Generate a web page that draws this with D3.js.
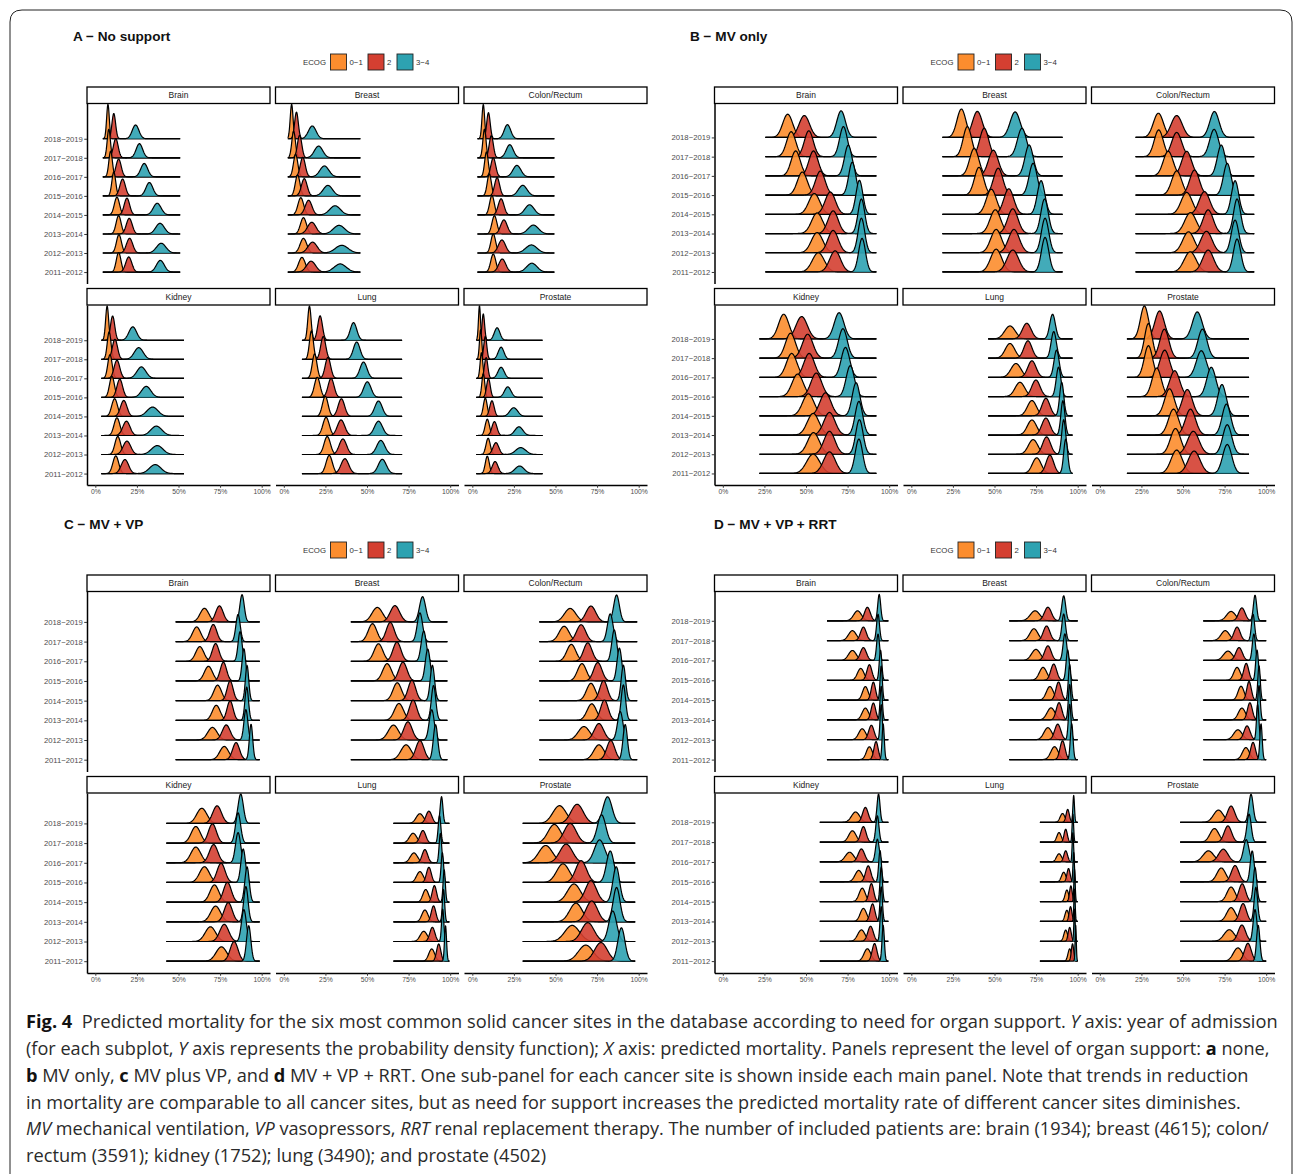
<!DOCTYPE html>
<html>
<head>
<meta charset="utf-8">
<script src="https://cdn.jsdelivr.net/npm/d3@7"></script>
<style>
  body { margin: 0; background: #fff; }
  svg { display: block; }
  text { font-family: "Liberation Sans", Arial, Helvetica, sans-serif; }
</style>
</head>
<body>
<script>
// ---- data ----------------------------------------------------------------
// rows of every array: ECOG 0−1, ECOG 2, ECOG 3−4 ; columns: 2011−2012 … 2018−2019
// mean and sd of predicted mortality (%), range = span of the data per facet (%)
const years = ["2011−2012", "2012−2013", "2013−2014", "2014−2015", "2015−2016", "2016−2017", "2017−2018", "2018−2019"];
const sites = ["Brain", "Breast", "Colon/Rectum", "Kidney", "Lung", "Prostate"];
const ecogLevels = ["0−1", "2", "3−4"];
const xTicks = [0, 25, 50, 75, 100];

// A – no support
const noSupportMean = {
  "Brain":        [[14.0, 14.2, 14.0, 13.0, 11.1, 9.2, 8.1, 7.6], [20.1, 20.6, 20.4, 19.0, 16.4, 14.0, 12.3, 11.1], [39.1, 39.6, 38.9, 37.2, 32.5, 29.4, 26.5, 24.2]],
  "Breast":       [[10.9, 11.8, 11.8, 10.2, 8.3, 7.1, 5.9, 4.7], [16.4, 17.3, 16.8, 14.9, 12.3, 11.4, 9.5, 7.6], [33.9, 34.8, 33.2, 30.8, 26.5, 24.4, 20.9, 17.1]],
  "Colon/Rectum": [[12.6, 12.6, 13.3, 11.8, 10.2, 8.5, 7.3, 6.6], [18.0, 17.8, 19.0, 17.3, 14.9, 12.6, 11.4, 9.7], [35.8, 35.5, 36.7, 34.4, 30.3, 26.8, 22.5, 21.1]],
  "Kidney":       [[12.3, 13.5, 13.0, 11.6, 10.0, 8.8, 8.3, 7.1], [17.8, 19.0, 18.7, 17.1, 14.7, 13.0, 11.8, 10.4], [36.0, 37.2, 36.7, 34.4, 30.6, 27.7, 26.1, 22.5]],
  "Lung":         [[27.3, 26.1, 25.4, 24.9, 20.1, 18.5, 16.6, 15.4], [36.7, 35.5, 34.4, 34.6, 28.4, 26.5, 23.7, 21.8], [59.2, 58.3, 56.9, 56.9, 50.2, 47.9, 43.8, 41.9]],
  "Prostate":     [[9.0, 9.5, 9.0, 7.8, 6.6, 5.5, 5.0, 4.3], [13.7, 14.2, 13.3, 11.8, 9.7, 8.3, 7.8, 6.6], [28.4, 29.1, 28.0, 24.9, 21.3, 17.3, 17.3, 14.9]]
};
const noSupportSd = {
  "Brain":        [[1.41, 1.5, 1.5, 1.55, 1.15, 1.07, 0.96, 0.8], [1.82, 1.87, 1.76, 1.64, 1.64, 1.55, 1.44, 1.09], [2.36, 2.82, 2.57, 2.36, 2.06, 2.06, 1.95, 2.0]],
  "Breast":       [[2.0, 2.0, 1.8, 1.7, 1.4, 1.3, 1.1, 0.85], [2.7, 2.7, 2.5, 2.0, 1.7, 1.5, 1.3, 1.1], [3.6, 3.8, 3.4, 3.2, 2.8, 2.7, 2.5, 2.3]],
  "Colon/Rectum": [[1.52, 1.44, 1.5, 1.41, 1.25, 1.1, 0.96, 0.8], [2.1, 2.1, 1.95, 1.7, 1.5, 1.44, 1.24, 1.05], [3.1, 3.4, 3.1, 2.7, 2.6, 2.4, 2.1, 1.95]],
  "Kidney":       [[1.74, 1.7, 1.74, 1.74, 1.47, 1.3, 1.12, 0.9], [2.2, 2.3, 2.16, 1.93, 1.69, 1.7, 1.54, 1.27], [3.45, 3.45, 3.3, 3.3, 2.8, 2.7, 2.65, 2.3]],
  "Lung":         [[1.88, 1.9, 1.88, 1.7, 1.7, 1.4, 1.2, 1.0], [2.3, 2.2, 2.2, 1.94, 1.8, 1.64, 1.5, 1.4], [2.4, 2.43, 2.4, 2.22, 2.2, 2.1, 1.98, 1.94]],
  "Prostate":     [[1.2, 1.28, 1.28, 1.13, 0.88, 0.81, 0.7, 0.6], [1.72, 1.75, 1.5, 1.33, 1.1, 1.0, 0.91, 0.79], [2.76, 3.0, 2.39, 2.39, 1.98, 1.88, 1.72, 1.67]]
};
const noSupportRange = {
  "Brain": [4.5, 51], "Breast": [2.4, 46], "Colon/Rectum": [3.1, 49.3],
  "Kidney": [3.6, 53.3], "Lung": [10.9, 71.1], "Prostate": [2.4, 42.2]
};

// B – MV only
const mvMean = {
  "Brain":        [[57.4, 56.7, 56.7, 55.0, 47.8, 43.8, 41.1, 39.0], [67.5, 66.3, 66.3, 64.6, 58.6, 54.5, 51.7, 49.0], [83.7, 83.3, 83.3, 82.1, 77.8, 75.4, 72.5, 71.1]],
  "Breast":       [[51.0, 51.0, 50.5, 48.1, 40.7, 37.8, 33.7, 30.1], [61.0, 61.7, 61.0, 58.6, 52.2, 49.3, 43.8, 39.7], [80.4, 80.4, 80.1, 78.0, 73.2, 70.8, 66.5, 62.4]],
  "Colon/Rectum": [[54.3, 53.3, 54.5, 52.2, 46.2, 41.1, 35.4, 35.2], [65.1, 64.1, 65.1, 62.9, 56.9, 52.2, 46.2, 46.2], [82.5, 81.3, 82.5, 81.3, 76.6, 73.0, 68.7, 68.9]],
  "Kidney":       [[54.3, 54.5, 54.3, 51.4, 45.0, 41.4, 40.7, 36.6], [64.1, 64.1, 64.1, 61.7, 56.2, 51.9, 51.0, 47.4], [81.8, 82.1, 81.8, 80.1, 76.6, 73.7, 72.2, 69.9]],
  "Lung":         [[75.4, 73.2, 72.5, 72.5, 65.3, 62.9, 59.3, 59.3], [83.3, 81.3, 80.9, 80.9, 74.9, 72.5, 70.1, 69.4], [92.8, 91.6, 91.1, 90.4, 88.5, 87.3, 85.6, 84.9]],
  "Prostate":     [[46.2, 45.5, 44.3, 41.9, 34.2, 29.2, 29.2, 26.8], [56.7, 56.2, 54.5, 52.6, 45.0, 39.0, 38.8, 35.9], [76.6, 76.6, 76.1, 73.4, 67.0, 61.0, 61.7, 58.6]]
};
const mvSd = {
  "Brain":        [[3.6, 3.43, 3.36, 3.33, 3.0, 2.77, 2.77, 2.98], [3.27, 3.1, 3.05, 3.1, 2.88, 2.77, 2.67, 3.16], [2.06, 2.0, 2.0, 2.03, 2.1, 2.25, 2.3, 2.6]],
  "Breast":       [[3.34, 3.26, 3.2, 3.03, 2.74, 2.77, 2.53, 2.68], [3.46, 3.26, 3.08, 2.98, 2.83, 2.96, 2.68, 2.92], [2.2, 2.2, 2.2, 2.26, 2.39, 2.46, 2.68, 2.98]],
  "Colon/Rectum": [[3.6, 3.47, 3.47, 3.32, 3.0, 2.95, 2.72, 3.0], [3.32, 3.38, 3.07, 3.2, 2.9, 2.95, 3.0, 3.32], [2.2, 2.22, 2.1, 2.16, 2.29, 2.36, 2.66, 2.8]],
  "Kidney":       [[3.94, 3.52, 3.52, 3.46, 3.37, 3.18, 3.05, 3.08], [3.52, 3.31, 3.37, 3.31, 3.23, 3.18, 3.18, 3.4], [2.21, 2.2, 2.26, 2.3, 2.46, 2.54, 2.58, 2.9]],
  "Lung":         [[2.65, 2.83, 2.76, 2.72, 2.9, 2.99, 2.83, 3.2], [2.26, 2.39, 2.44, 2.36, 2.5, 2.5, 2.39, 2.65], [1.21, 1.2, 1.21, 1.24, 1.41, 1.52, 1.56, 1.68]],
  "Prostate":     [[3.39, 3.08, 3.06, 2.93, 2.77, 2.5, 2.29, 2.4], [3.53, 3.45, 3.06, 3.01, 3.06, 2.91, 2.73, 2.83], [2.73, 2.68, 2.56, 2.53, 2.7, 2.97, 2.73, 2.93]]
};
const mvRange = {
  "Brain": [25.6, 92.3], "Breast": [18.7, 90.9], "Colon/Rectum": [21.5, 92.8],
  "Kidney": [22.0, 92.3], "Lung": [46.2, 96.9], "Prostate": [16.3, 89.7]
};

// C – MV + VP
const mvVpMean = {
  "Brain":        [[77.5, 70.4, 72.7, 73.5, 68.0, 62.8, 60.9, 65.6], [84.6, 78.7, 81.0, 81.0, 77.0, 72.3, 70.9, 74.6], [93.6, 90.5, 91.0, 91.2, 89.3, 87.0, 85.8, 88.2]],
  "Breast":       [[73.5, 65.9, 69.2, 68.2, 62.1, 56.9, 53.3, 56.2], [81.8, 74.6, 77.7, 77.0, 71.6, 68.0, 64.0, 66.8], [91.2, 88.9, 90.0, 89.3, 86.5, 84.1, 81.8, 83.4]],
  "Colon/Rectum": [[76.1, 67.1, 71.8, 71.3, 65.9, 59.5, 55.2, 58.8], [83.2, 76.1, 79.4, 78.9, 75.4, 69.4, 65.4, 71.3], [91.9, 88.9, 90.8, 90.8, 88.4, 85.3, 82.9, 86.7]],
  "Kidney":       [[75.8, 69.2, 72.3, 71.6, 65.6, 60.4, 60.4, 64.0], [83.4, 77.5, 79.9, 79.4, 75.6, 71.1, 70.4, 73.2], [92.2, 89.3, 90.5, 91.2, 88.9, 85.8, 85.8, 87.4]],
  "Lung":         [[88.9, 84.1, 84.8, 85.3, 81.8, 78.2, 77.7, 81.8], [93.1, 89.3, 90.0, 90.5, 87.2, 84.8, 83.6, 87.2], [97.2, 95.5, 96.0, 96.4, 95.3, 94.1, 93.6, 94.8]],
  "Prostate":     [[68.2, 60.0, 62.3, 61.1, 54.5, 44.1, 49.3, 52.4], [77.3, 69.4, 71.8, 71.3, 65.4, 56.4, 58.8, 63.0], [89.6, 84.4, 86.7, 86.5, 82.9, 76.5, 77.7, 81.3]]
};
const mvVpSd = {
  "Brain":        [[2.69, 2.82, 2.36, 2.3, 2.43, 2.43, 2.43, 2.61], [2.08, 2.36, 1.82, 1.8, 1.9, 2.01, 2.08, 2.22], [1.0, 1.17, 1.07, 1.01, 1.1, 1.2, 1.31, 1.31]],
  "Breast":       [[3.09, 3.09, 2.73, 2.57, 2.66, 2.63, 2.57, 3.18], [2.39, 2.52, 2.27, 2.25, 2.44, 2.39, 2.39, 2.83], [1.31, 1.52, 1.32, 1.3, 1.44, 1.52, 1.6, 1.82]],
  "Colon/Rectum": [[3.1, 3.42, 2.79, 2.66, 2.66, 2.73, 3.01, 3.42], [2.39, 2.79, 2.27, 2.29, 2.49, 2.49, 2.73, 2.9], [1.31, 1.62, 1.3, 1.3, 1.4, 1.47, 1.66, 1.71]],
  "Kidney":       [[3.23, 3.14, 2.94, 2.69, 2.94, 2.94, 2.79, 3.05], [2.35, 2.69, 2.4, 2.33, 2.4, 2.54, 2.4, 2.63], [1.3, 1.45, 1.31, 1.31, 1.38, 1.53, 1.53, 1.57]],
  "Lung":         [[1.77, 2.12, 1.83, 1.72, 2.0, 2.2, 2.2, 2.24], [1.26, 1.53, 1.36, 1.31, 1.43, 1.64, 1.72, 1.77], [0.61, 0.67, 0.67, 0.67, 0.73, 0.74, 0.79, 0.81]],
  "Prostate":     [[4.4, 4.4, 3.8, 3.9, 3.8, 4.1, 3.8, 4.0], [3.8, 3.75, 3.4, 3.3, 3.25, 3.8, 3.6, 3.7], [2.12, 2.32, 2.06, 2.0, 2.25, 3.1, 2.51, 2.66]]
};
const mvVpRange = {
  "Brain": [48.3, 98.8], "Breast": [40.3, 98.3], "Colon/Rectum": [40.3, 99.1],
  "Kidney": [42.7, 98.8], "Lung": [65.9, 99.5], "Prostate": [30.3, 97.9]
};

// D – MV + VP + RRT
const mvVpRrtMean = {
  "Brain":        [[88.1, 83.8, 85.7, 85.7, 82.9, 77.9, 77.9, 81.0], [92.1, 89.3, 90.5, 90.5, 88.1, 84.5, 84.5, 86.9], [96.4, 95.2, 95.2, 95.2, 94.8, 93.3, 93.3, 94.0]],
  "Breast":       [[86.1, 82.1, 84.0, 83.3, 79.2, 74.9, 73.7, 74.4], [90.9, 88.0, 88.8, 88.5, 85.6, 82.1, 81.3, 82.1], [96.4, 95.2, 95.2, 95.2, 94.0, 92.3, 91.6, 91.6]],
  "Colon/Rectum": [[87.8, 83.0, 85.4, 84.9, 82.5, 77.0, 75.4, 78.9], [92.1, 88.5, 90.2, 89.7, 88.0, 83.7, 82.5, 85.4], [96.9, 94.9, 95.7, 95.7, 94.5, 92.6, 92.1, 93.3]],
  "Kidney":       [[86.9, 83.3, 84.5, 83.8, 81.7, 76.2, 77.9, 79.8], [91.2, 88.8, 90.0, 89.3, 87.4, 83.3, 84.5, 85.7], [96.4, 95.2, 95.2, 95.2, 94.5, 92.9, 92.9, 93.6]],
  "Lung":         [[95.2, 92.8, 93.5, 93.5, 91.6, 88.8, 88.8, 90.9], [96.9, 95.2, 95.7, 95.9, 94.5, 92.8, 92.8, 94.0], [98.8, 98.1, 98.1, 98.1, 97.6, 97.1, 97.1, 97.6]],
  "Prostate":     [[83.0, 77.8, 78.9, 78.9, 73.0, 65.3, 68.9, 71.3], [89.0, 85.4, 86.1, 85.6, 81.3, 74.2, 77.0, 78.9], [95.2, 93.3, 93.8, 93.3, 91.6, 88.0, 89.7, 90.9]]
};
const mvVpRrtSd = {
  "Brain":        [[1.81, 2.11, 1.96, 1.72, 1.96, 2.33, 2.33, 2.33], [1.29, 1.6, 1.37, 1.29, 1.49, 1.81, 1.72, 1.72], [0.65, 0.66, 0.69, 0.68, 0.77, 0.88, 0.88, 0.88]],
  "Breast":       [[2.23, 2.38, 2.38, 2.12, 2.23, 2.6, 2.42, 2.88], [1.53, 1.84, 1.66, 1.59, 1.77, 1.97, 1.97, 2.12], [0.8, 0.81, 0.81, 0.81, 0.95, 1.08, 1.08, 1.15]],
  "Colon/Rectum": [[2.09, 2.52, 2.12, 1.81, 1.95, 2.69, 2.52, 2.69], [1.46, 1.81, 1.46, 1.34, 1.48, 1.95, 1.86, 1.95], [0.7, 0.71, 0.73, 0.73, 0.83, 0.95, 0.95, 0.98]],
  "Kidney":       [[2.02, 2.2, 1.92, 1.86, 2.2, 2.57, 2.2, 2.42], [1.42, 1.66, 1.42, 1.38, 1.57, 1.92, 1.61, 1.68], [0.7, 0.72, 0.72, 0.72, 0.8, 1.1, 0.95, 0.88]],
  "Lung":         [[1.03, 1.13, 1.13, 1.09, 1.32, 1.55, 1.32, 1.44], [0.73, 0.91, 0.85, 0.8, 0.95, 1.13, 0.98, 0.98], [0.35, 0.39, 0.39, 0.39, 0.43, 0.43, 0.45, 0.47]],
  "Prostate":     [[2.72, 3.11, 2.6, 2.46, 2.6, 3.22, 2.64, 2.95], [2.01, 2.21, 2.01, 2.01, 2.21, 2.81, 2.21, 2.21], [1.0, 1.13, 1.05, 1.05, 1.16, 1.61, 1.28, 1.28]]
};
const mvVpRrtRange = {
  "Brain": [62.6, 99.5], "Breast": [58.9, 100], "Colon/Rectum": [62.2, 100],
  "Kidney": [58.3, 99.5], "Lung": [77.3, 100], "Prostate": [48.3, 100]
};

// ---- layout --------------------------------------------------------------
const panels = [
  { title: "A − No support",    mean: noSupportMean, sd: noSupportSd, range: noSupportRange, dx: 0,     dy: 0,   tx: 73 },
  { title: "B − MV only",       mean: mvMean,        sd: mvSd,        range: mvRange,        dx: 627.5, dy: 0,   tx: 690 },
  { title: "C − MV + VP",       mean: mvVpMean,      sd: mvVpSd,      range: mvVpRange,      dx: 0,     dy: 488, tx: 64 },
  { title: "D − MV + VP + RRT", mean: mvVpRrtMean,   sd: mvVpRrtSd,   range: mvVpRrtRange,   dx: 627.5, dy: 488, tx: 714 }
];

const colX = [87, 275.5, 464], facetW = 183;
const stripTop = 87, stripH = 16.5, plotH = 180, rowGap = 5;
const ridgeScale = 1.8;
const fills = ["#fc8d2e", "#d43f31", "#2da2b1"];

const svg = d3.select("body").append("svg").attr("width", 1293).attr("height", 1174);
svg.append("rect").attr("width", 1293).attr("height", 1174).attr("fill", "#fff");

function gauss(v, m, s) {
  const z = (v - m) / s;
  return Math.exp(-0.5 * z * z) / (s * Math.sqrt(2 * Math.PI));
}

panels.forEach(p => {
  const g = svg.append("g").attr("transform", `translate(${p.dx},${p.dy})`);

  g.append("text")
    .attr("x", p.tx - p.dx).attr("y", 40.5)
    .attr("font-size", 13.6).attr("font-weight", "bold").attr("fill", "#111")
    .text(p.title);

  // legend
  const lg = g.append("g").attr("transform", "translate(303,54)");
  lg.append("text").attr("x", 0).attr("y", 11).attr("font-size", 7.8).attr("fill", "#333").text("ECOG");
  const keyX = [27.5, 65, 94];
  ecogLevels.forEach((lab, k) => {
    lg.append("rect").attr("x", keyX[k]).attr("y", 0).attr("width", 16).attr("height", 16)
      .attr("fill", fills[k]).attr("stroke", "#222").attr("stroke-width", 0.9);
    lg.append("text").attr("x", keyX[k] + 19).attr("y", 11).attr("font-size", 7.8).attr("fill", "#333").text(lab);
  });

  // density curves per facet
  const facets = sites.map(site => {
    const [lo, hi] = p.range[site];
    const xs = d3.range(0, 201).map(k => lo + (hi - lo) * k / 200);
    const curves = p.mean[site].map((ms, gi) =>
      ms.map((m, yi) => xs.map(v => [v, gauss(v, m, p.sd[site][gi][yi])])));
    const maxD = d3.max(curves.flat(2), d => d[1]);
    return { site, curves, maxD };
  });
  // y range reaches the top of the highest ridge in the first year row
  const topH = d3.max(facets, f => d3.max(f.curves, c => d3.max(c[7], d => d[1])) / f.maxD * ridgeScale);
  const yMax = Math.max(8.6, 8 + topH + 0.05);

  facets.forEach((f, i) => {
    const col = i % 3, row = Math.floor(i / 3);
    const fx = colX[col];
    const sy = stripTop + row * (stripH + plotH + rowGap);
    const py = sy + stripH;
    const x = d3.scaleLinear().domain([-5, 105]).range([fx, fx + facetW]);
    const y = d3.scaleLinear().domain([0.4, yMax]).range([py + plotH, py]);

    const fg = g.append("g");
    // white grid lines, only visible through the translucent fills
    fg.selectAll("line.grid").data(xTicks).join("line")
      .attr("class", "grid")
      .attr("x1", d => x(d)).attr("x2", d => x(d))
      .attr("y1", py).attr("y2", py + plotH)
      .attr("stroke", "#fff").attr("stroke-width", 0.6);

    for (let yi = 7; yi >= 0; yi--) {
      const base = yi + 1;
      for (let gi = 0; gi < 3; gi++) {
        const pts = f.curves[gi][yi];
        const top = d => y(base + d[1] / f.maxD * ridgeScale);
        fg.append("path").datum(pts)
          .attr("d", d3.area().x(d => x(d[0])).y0(y(base)).y1(top))
          .attr("fill", fills[gi]).attr("fill-opacity", 0.9);
        fg.append("path").datum(pts)
          .attr("d", d3.line().x(d => x(d[0])).y(top))
          .attr("fill", "none").attr("stroke", "#000").attr("stroke-width", 1.2)
          .attr("stroke-linejoin", "round");
      }
    }

    // strip
    g.append("rect").attr("x", fx).attr("y", sy).attr("width", facetW).attr("height", stripH)
      .attr("fill", "#fff").attr("stroke", "#000").attr("stroke-width", 1.3);
    g.append("text").attr("x", fx + facetW / 2).attr("y", sy + stripH / 2 + 3)
      .attr("text-anchor", "middle").attr("font-size", 8.5).attr("fill", "#1a1a1a").text(f.site);

    if (col === 0) {
      const ya = g.append("g").attr("transform", `translate(${fx},0)`)
        .call(d3.axisLeft(y).tickValues(d3.range(1, 9)).tickFormat(v => years[v - 1])
          .tickSize(2.75).tickSizeOuter(0).tickPadding(1.5));
      ya.attr("font-family", "Liberation Sans, Arial, sans-serif").attr("font-size", 7.7);
      ya.select(".domain").attr("stroke", "#000").attr("stroke-width", 1.5);
      ya.selectAll(".tick line").attr("stroke", "#333").attr("stroke-width", 1);
      ya.selectAll(".tick text").attr("fill", "#4d4d4d");
    }
    if (row === 1) {
      const xa = g.append("g").attr("transform", `translate(0,${py + plotH})`)
        .call(d3.axisBottom(x).tickValues(xTicks).tickFormat(v => v + "%")
          .tickSize(2.75).tickSizeOuter(0).tickPadding(1.5));
      xa.attr("font-family", "Liberation Sans, Arial, sans-serif").attr("font-size", 6.8);
      xa.select(".domain").attr("stroke", "#000").attr("stroke-width", 1.5);
      xa.selectAll(".tick line").attr("stroke", "#333").attr("stroke-width", 1);
      xa.selectAll(".tick text").attr("fill", "#4d4d4d");
    }
  });
});

// ---- caption ------------------------------------------------------------
const captionLines = [
  [["Fig. 4", "b"], ["  Predicted mortality for the six most common solid cancer sites in the database according to need for organ support. ", ""], ["Y", "i"], [" axis: year of admission", ""]],
  [["(for each subplot, ", ""], ["Y", "i"], [" axis represents the probability density function); ", ""], ["X", "i"], [" axis: predicted mortality. Panels represent the level of organ support: ", ""], ["a", "b"], [" none,", ""]],
  [["b", "b"], [" MV only, ", ""], ["c", "b"], [" MV plus VP, and ", ""], ["d", "b"], [" MV + VP + RRT. One sub-panel for each cancer site is shown inside each main panel. Note that trends in reduction", ""]],
  [["in mortality are comparable to all cancer sites, but as need for support increases the predicted mortality rate of different cancer sites diminishes.", ""]],
  [["MV", "i"], [" mechanical ventilation, ", ""], ["VP", "i"], [" vasopressors, ", ""], ["RRT", "i"], [" renal replacement therapy. The number of included patients are: brain (1934); breast (4615); colon/", ""]],
  [["rectum (3591); kidney (1752); lung (3490); and prostate (4502)", ""]]
];
const capBase = [1028, 1055, 1082, 1108.5, 1135, 1162];
const capRight = [1278, 1270, 1250, 1242, 1269, 546];

captionLines.forEach((segs, li) => {
  const t = svg.append("text")
    .attr("x", 0).attr("y", 0)
    .attr("font-size", 17.5)
    .attr("fill", "#2a2a2a")
    .style("white-space", "pre")
    .style("font-family", "'Liberation Sans Narrow', 'Open Sans', 'Liberation Sans', sans-serif");
  segs.forEach(([s, st]) => {
    const ts = t.append("tspan").text(s);
    if (st === "b") ts.attr("font-weight", "bold").attr("fill", "#111");
    if (st === "i") ts.attr("font-style", "italic");
  });
  const w = t.node().getComputedTextLength();
  t.attr("transform", `translate(26,${capBase[li]}) scale(${(capRight[li] - 26) / w},1)`);
});

// rounded frame around the figure
svg.append("path")
  .attr("d", "M10,1174 V22 Q10,10 22,10 H1280 Q1292,10 1292,22 V1174")
  .attr("fill", "none").attr("stroke", "#222").attr("stroke-width", 1);
</script>
</body>
</html>
